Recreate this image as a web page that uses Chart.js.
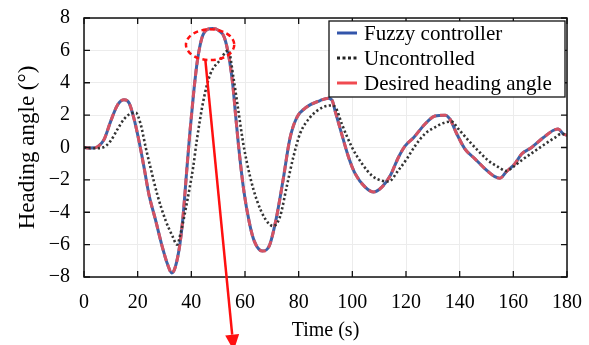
<!DOCTYPE html>
<html>
<head>
<meta charset="utf-8">
<script src="https://cdn.jsdelivr.net/npm/chart.js@4.4.0/dist/chart.umd.min.js"></script>
<style>
  html, body { margin: 0; padding: 0; background: #fff; }
  #wrap { width: 589px; height: 345px; position: relative; }
</style>
</head>
<body>
<div id="wrap"><canvas id="chart"></canvas></div>
<script>
// time (s) and heading angle (deg)
const desiredTime = [0, 2, 4, 5.5, 7.5, 9.9, 12.4, 14.9, 16.8, 18.6, 20.5, 22.4, 24.2, 26.7, 29.2, 31.1, 32.7, 34, 35.8, 37, 38.2, 39.5, 41, 42.2, 44, 46, 48, 50, 52.3, 54, 55.5, 56.5, 57.6, 59.5, 61.7, 63.5, 66.5, 69, 71.5, 74, 76.8, 79.3, 83, 88, 91, 92.5, 93.6, 96.1, 98.6, 101, 104.8, 107.9, 111, 114.1, 117.2, 119.7, 122.8, 127.1, 130.8, 134.6, 136.4, 138.9, 142, 145.7, 150, 153.1, 155, 157.4, 160.6, 163.1, 166.8, 171.1, 174.8, 176.7, 178.5, 180];
const desired = [0, -0.03, -0.02, 0.1, 0.5, 1.6, 2.6, 2.95, 2.75, 1.8, 0.4, -1.25, -2.9, -4.5, -6.15, -7.2, -7.75, -7.4, -5.9, -4.1, -1.6, 1.0, 3.6, 5.3, 6.8, 7.3, 7.35, 7.25, 6.8, 5.6, 3.8, 2.0, 0.1, -2.6, -4.7, -5.8, -6.4, -6.1, -4.5, -2.2, 0.6, 1.85, 2.5, 2.9, 3.05, 2.9, 2.25, 0.8, -0.6, -1.6, -2.45, -2.75, -2.45, -1.75, -0.6, 0.1, 0.6, 1.45, 1.95, 2.0, 1.75, 0.85, -0.1, -0.7, -1.4, -1.8, -1.9, -1.5, -1.0, -0.4, 0, 0.6, 1.05, 1.15, 0.85, 0.75];
// fuzzy controller tracks the desired angle so closely the two overlap
const fuzzy = [0, -0.03, -0.02, 0.1, 0.5, 1.6, 2.6, 2.95, 2.75, 1.8, 0.4, -1.25, -2.9, -4.5, -6.15, -7.2, -7.75, -7.4, -5.9, -4.1, -1.6, 1.0, 3.6, 5.3, 6.8, 7.3, 7.35, 7.25, 6.8, 5.6, 3.8, 2.0, 0.1, -2.6, -4.7, -5.8, -6.4, -6.1, -4.5, -2.2, 0.6, 1.85, 2.5, 2.9, 3.05, 2.9, 2.25, 0.8, -0.6, -1.6, -2.45, -2.75, -2.45, -1.75, -0.6, 0.1, 0.6, 1.45, 1.95, 2.0, 1.75, 0.85, -0.1, -0.7, -1.4, -1.8, -1.9, -1.5, -1.0, -0.4, 0, 0.6, 1.05, 1.15, 0.85, 0.75];
const uncontrolledTime = [0, 4, 7, 9.9, 12.4, 14.9, 17.4, 19.3, 21.1, 23, 24.8, 27.3, 30.4, 32.9, 34.7, 36, 38.3, 40.7, 42, 44.5, 47, 50.7, 53.8, 55.7, 57.5, 59.4, 61.9, 64.4, 67.5, 70.5, 73, 75.5, 78, 80.5, 84.2, 89.2, 92.5, 94, 96.1, 99.9, 103.6, 107.4, 111, 113.5, 117.2, 120.3, 123.4, 127.1, 130.8, 134.6, 137, 139.5, 143.2, 146.9, 150.6, 154.3, 157.4, 159.9, 163, 167.3, 171.7, 175.4, 177.9, 180];
const uncontrolled = [0, -0.05, 0, 0.4, 1.1, 1.75, 2.1, 2.15, 1.45, 0, -1.25, -2.9, -4.5, -5.45, -6.0, -5.3, -3.45, -1.2, 0.4, 2.9, 4.5, 5.4, 6.0, 4.3, 2.3, 0.2, -1.8, -3.25, -4.4, -4.85, -4.3, -2.45, -0.6, 0.85, 1.85, 2.5, 2.6, 2.4, 1.45, 0, -1.0, -1.75, -2.05, -2.1, -1.4, -0.7, 0.1, 0.85, 1.25, 1.55, 1.6, 1.15, 0.45, -0.2, -0.8, -1.2, -1.45, -1.2, -0.8, -0.3, 0.2, 0.6, 0.85, 0.75];

const seriesLabels = ["Fuzzy controller", "Uncontrolled", "Desired heading angle"];
const xTitle = "Time (s)";
const yTitle = "Heading angle (\u00B0)";

// red highlight around the first big peak, in data units
const highlight = { x: 47, y: 6.35, rx: 9, ry: 0.95 };
const arrow = { x1: 45.2, y1: 5.45, x2: 55.8, y2: -12.55 };

const serif = "'Liberation Serif', 'Times New Roman', serif";

function pairs(ts, vs) {
  return ts.map((t, i) => ({ x: t, y: vs[i] }));
}

const frame = {
  id: "frame",
  afterDraw(chart) {
    const ctx = chart.ctx;
    const a = chart.chartArea;
    const xs = chart.scales.x, ys = chart.scales.y;
    ctx.save();
    ctx.strokeStyle = "#111";
    ctx.lineWidth = 1.5;
    ctx.strokeRect(a.left, a.top, a.right - a.left, a.bottom - a.top);
    ctx.lineWidth = 1.3;
    ctx.beginPath();
    xs.ticks.forEach(t => {
      const px = xs.getPixelForValue(t.value);
      ctx.moveTo(px, a.bottom); ctx.lineTo(px, a.bottom - 6);
      ctx.moveTo(px, a.top); ctx.lineTo(px, a.top + 6);
    });
    ys.ticks.forEach(t => {
      const py = ys.getPixelForValue(t.value);
      ctx.moveTo(a.left, py); ctx.lineTo(a.left + 6, py);
      ctx.moveTo(a.right, py); ctx.lineTo(a.right - 6, py);
    });
    ctx.stroke();

    // legend box
    const sets = chart.data.datasets;
    ctx.font = "21px " + serif;
    const w = 236, h = 76;
    const lx = a.right - 2 - w, ly = a.top + 3;
    ctx.fillStyle = "#fff";
    ctx.fillRect(lx, ly, w, h);
    ctx.strokeStyle = "#111";
    ctx.lineWidth = 1.3;
    ctx.strokeRect(lx, ly, w, h);
    ctx.textBaseline = "middle";
    sets.forEach((ds, i) => {
      const yy = ly + 12 + i * 25;
      ctx.beginPath();
      ctx.strokeStyle = ds.legendColor;
      ctx.lineWidth = 3;
      ctx.setLineDash(ds.legendDash);
      ctx.moveTo(lx + 8, yy); ctx.lineTo(lx + 28, yy);
      ctx.stroke();
      ctx.setLineDash([]);
      ctx.fillStyle = "#000";
      ctx.fillText(ds.label, lx + 35, yy + 1);
    });

    // highlight ellipse and arrow
    ctx.strokeStyle = "#ff1010";
    ctx.fillStyle = "#ff1010";
    ctx.lineWidth = 2.5;
    ctx.setLineDash([5, 3.5]);
    const cx = xs.getPixelForValue(highlight.x), cy = ys.getPixelForValue(highlight.y);
    const rx = xs.getPixelForValue(highlight.x + highlight.rx) - cx;
    const ry = cy - ys.getPixelForValue(highlight.y + highlight.ry);
    ctx.beginPath();
    ctx.ellipse(cx, cy, rx, ry, 0, 0, Math.PI * 2);
    ctx.stroke();
    ctx.setLineDash([]);
    const x1 = xs.getPixelForValue(arrow.x1), y1 = ys.getPixelForValue(arrow.y1);
    const x2 = xs.getPixelForValue(arrow.x2), y2 = ys.getPixelForValue(arrow.y2);
    const ang = Math.atan2(y2 - y1, x2 - x1);
    const head = 16;
    const bx = x2 - head * Math.cos(ang), by = y2 - head * Math.sin(ang);
    ctx.beginPath();
    ctx.moveTo(x1, y1); ctx.lineTo(bx, by);
    ctx.stroke();
    ctx.beginPath();
    ctx.moveTo(x2, y2);
    ctx.lineTo(bx + 7 * Math.sin(ang), by - 7 * Math.cos(ang));
    ctx.lineTo(bx - 7 * Math.sin(ang), by + 7 * Math.cos(ang));
    ctx.closePath();
    ctx.fill();
    ctx.restore();
  }
};

const ctx = document.getElementById("chart").getContext("2d");
new Chart(ctx, {
  type: "line",
  data: {
    datasets: [
      {
        label: seriesLabels[0],
        data: pairs(desiredTime, fuzzy),
        borderColor: "#3f62a6",
        borderWidth: 3,
        order: 3,
        legendColor: "#3355aa",
        legendDash: [],
      },
      {
        label: seriesLabels[1],
        data: pairs(uncontrolledTime, uncontrolled),
        borderColor: "#333333",
        borderWidth: 2.6,
        borderDash: [2.2, 2.4],
        order: 1,
        legendColor: "#222",
        legendDash: [3, 2.5],
      },
      {
        label: seriesLabels[2],
        data: pairs(desiredTime, desired),
        borderColor: "rgba(226, 80, 92, 0.92)",
        borderWidth: 3,
        borderDash: [7, 4],
        order: 2,
        legendColor: "#f04a50",
        legendDash: [],
      },
    ],
  },
  options: {
    responsive: true,
    maintainAspectRatio: false,
    animation: false,
    layout: { padding: { top: 18, right: 22, left: 0, bottom: 0 } },
    elements: {
      point: { radius: 0 },
      line: { cubicInterpolationMode: "monotone", fill: false },
    },
    plugins: {
      legend: { display: false },
      tooltip: { enabled: false },
    },
    scales: {
      x: {
        type: "linear",
        min: 0,
        max: 180,
        ticks: { stepSize: 20, color: "#000", font: { family: serif, size: 20 }, padding: 14, maxRotation: 0 },
        grid: { color: "#ececec", drawTicks: false },
        border: { display: false },
        title: { display: true, text: xTitle, color: "#000", font: { family: serif, size: 20 }, padding: { top: 0, bottom: 2 } },
        afterFit(scale) {
          scale.height = 68;
          scale.paddingLeft = 0;
          scale.paddingRight = 0;
        },
      },
      y: {
        min: -8,
        max: 8,
        ticks: {
          stepSize: 2,
          color: "#000",
          font: { family: serif, size: 20 },
          padding: 14,
          callback: v => String(v).replace("-", "\u2212"),
        },
        grid: { color: "#ececec", drawTicks: false },
        border: { display: false },
        title: { display: true, text: yTitle, color: "#000", font: { family: serif, size: 23 }, padding: { top: 14, bottom: 0 } },
        afterFit(scale) {
          scale.width = 84;
          scale.paddingTop = 0;
          scale.paddingBottom = 0;
        },
      },
    },
  },
  plugins: [frame],
});
</script>
</body>
</html>
